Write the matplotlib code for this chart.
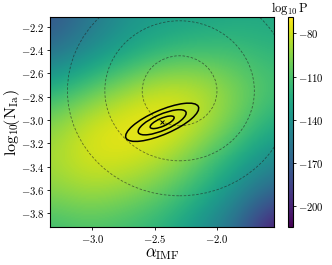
import numpy as np
import matplotlib
matplotlib.use("Agg")
import matplotlib.pyplot as plt
from matplotlib.patches import Ellipse, Circle

plt.rcParams['font.family'] = 'serif'
plt.rcParams['font.serif'] = ['cmr10', 'DejaVu Serif']
plt.rcParams['mathtext.fontset'] = 'cm'
plt.rcParams['axes.formatter.use_mathtext'] = True

# grid of log10 P values
alpha_grid = [-3.34, -3.04, -2.74, -2.44, -2.14, -1.84, -1.54]
nia_grid = [-3.92, -3.62, -3.32, -3.02, -2.72, -2.42, -2.12]
logp = [
    [-115, -110, -114, -122, -140, -165, -212],   # y=-3.92
    [-96, -89, -94, -104, -121, -145, -170],      # y=-3.62
    [-88, -76, -76, -84, -102, -124, -145],       # y=-3.32
    [-98, -80, -72, -69, -82, -102, -124],        # y=-3.02
    [-126, -110, -94, -82, -84, -98, -112],       # y=-2.72
    [-162, -145, -130, -118, -113, -114, -120],   # y=-2.42
    [-178, -160, -142, -135, -132, -128, -128],   # y=-2.12
]

# best fit and posterior contours (1, 2, 3 sigma)
best_alpha = -2.44
best_nia = -3.02
ell_widths = [0.21, 0.42, 0.64]
ell_heights = [0.068, 0.136, 0.205]
ell_angle = 25.0

# prior circles
prior_alpha = -2.3
prior_nia = -2.75
prior_radii = [0.3, 0.6, 0.9]

cbar_ticks = [-80, -110, -140, -170, -200]

fig = plt.figure(figsize=(3.32, 2.65), dpi=100)
ax = fig.add_axes([0.1506, 0.1423, 0.6756, 0.7925])
cax = fig.add_axes([0.8666, 0.1423, 0.0151, 0.7925])

Z = np.array(logp, dtype=float)
dx = (alpha_grid[1] - alpha_grid[0]) / 2
dy = (nia_grid[1] - nia_grid[0]) / 2
im = ax.imshow(Z, origin='lower', cmap='viridis', interpolation='bicubic',
               extent=[alpha_grid[0] - dx, alpha_grid[-1] + dx,
                       nia_grid[0] - dy, nia_grid[-1] + dy],
               aspect='auto', vmin=-215, vmax=-68.7)

for r in prior_radii:
    ax.add_patch(Circle((prior_alpha, prior_nia), r, fill=False,
                        ls=(0, (3, 2)), lw=0.6, ec='#222222', alpha=0.6))

for w, h in zip(ell_widths, ell_heights):
    ax.add_patch(Ellipse((best_alpha, best_nia), w, h, angle=ell_angle,
                         fill=False, lw=1.1, ec='black'))

ax.plot([best_alpha], [best_nia], marker='x', color='black', ms=3, mew=0.7)

ax.set_xlim(-3.34, -1.54)
ax.set_ylim(-3.92, -2.12)
ax.set_xticks([-3.0, -2.5, -2.0])
ax.set_yticks([-3.8, -3.6, -3.4, -3.2, -3.0, -2.8, -2.6, -2.4, -2.2])
ax.tick_params(labelsize=7.7, length=2, width=0.6, pad=2)
for s in ax.spines.values():
    s.set_linewidth(0.8)
ax.set_xlabel(r'$\alpha_{\mathrm{IMF}}$', fontsize=12, labelpad=1)
ax.set_ylabel(r'$\mathrm{log}_{10}\!(\mathrm{N}_{\mathrm{Ia}})$', fontsize=11.5)
ax.yaxis.set_label_coords(-0.127, 0.5)

cb = fig.colorbar(im, cax=cax, ticks=cbar_ticks)
cb.ax.tick_params(labelsize=7.7, length=2, width=0.6, pad=2)
cb.outline.set_linewidth(0.8)
cb.ax.set_title(r'$\mathrm{log}_{10}\,\mathrm{P}$', fontsize=9, pad=3)

fig.savefig('out.png', dpi=100)
